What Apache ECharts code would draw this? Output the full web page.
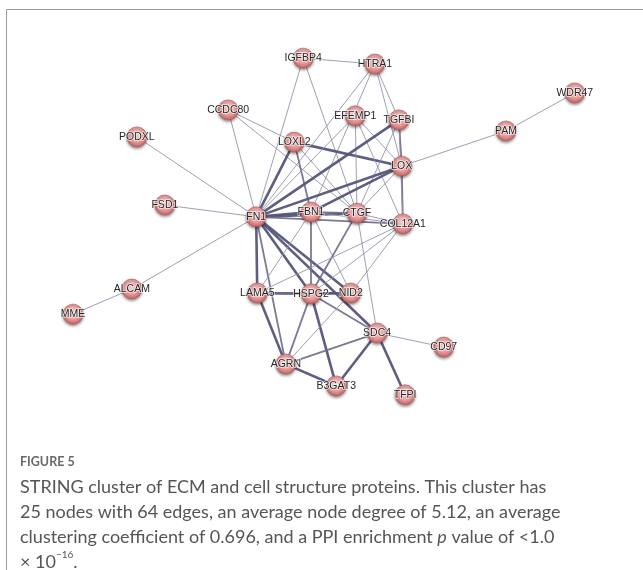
<!DOCTYPE html>
<html>
<head>
<meta charset="utf-8">
<style>
  html, body { margin: 0; padding: 0; background: #fff; }
  #chart { width: 643px; height: 570px; }
</style>
<script src="https://cdn.jsdelivr.net/npm/echarts@6/dist/echarts.min.js"></script>
</head>
<body>
<div id="chart"></div>
<script>
// Protein names and their layout coordinates (layout units, 0–100 on each axis)
const proteins = ['IGFBP4','HTRA1','WDR47','CCDC80','EFEMP1','TGFBI','PAM','PODXL','LOXL2','LOX',
  'FSD1','FN1','FBN1','CTGF','COL12A1','ALCAM','MME','LAMA5','HSPG2','NID2','SDC4','CD97','AGRN','B3GAT3','TFPI'];
const layoutX = [47.0, 59.8, 95.5, 33.6, 56.3, 64.1, 83.2, 17.3, 45.4, 64.6,
  22.3, 38.6, 48.4, 56.6, 64.8, 16.4, 5.9, 38.8, 48.4, 55.5, 60.2, 72.1, 43.9, 52.9, 65.2];
const layoutY = [4.9, 6.5, 14.3, 18.9, 20.5, 21.6, 24.6, 26.2, 27.6, 34.1,
  44.6, 47.8, 46.5, 46.8, 49.7, 67.3, 74.1, 68.4, 68.6, 68.4, 79.2, 83.0, 87.6, 93.5, 95.9];

// Interactions: [protein A, protein B, confidence level 1 (low) – 3 (highest)]
const interactions = [
  ['IGFBP4','HTRA1',1], ['IGFBP4','FN1',1], ['IGFBP4','CTGF',1],
  ['HTRA1','FN1',1], ['HTRA1','FBN1',1], ['HTRA1','TGFBI',1], ['HTRA1','LOX',1],
  ['CCDC80','FN1',1], ['CCDC80','LOXL2',1], ['CCDC80','CTGF',1],
  ['PODXL','FN1',1], ['FSD1','FN1',1], ['ALCAM','FN1',1], ['MME','ALCAM',1],
  ['PAM','LOX',1], ['PAM','WDR47',1],
  ['LOXL2','LOX',3], ['LOXL2','FN1',3], ['LOXL2','FBN1',2], ['LOXL2','CTGF',1],
  ['EFEMP1','CTGF',1], ['EFEMP1','LOX',1], ['EFEMP1','FN1',1], ['EFEMP1','COL12A1',1],
  ['TGFBI','FN1',3], ['TGFBI','LOX',2], ['TGFBI','CTGF',1],
  ['LOX','FN1',3], ['LOX','FBN1',3], ['LOX','CTGF',1], ['LOX','COL12A1',2],
  ['FN1','FBN1',3], ['FN1','CTGF',3], ['FN1','COL12A1',2], ['FN1','LAMA5',3],
  ['FN1','HSPG2',3], ['FN1','NID2',3], ['FN1','SDC4',3], ['FN1','AGRN',2],
  ['FBN1','CTGF',2], ['FBN1','COL12A1',1], ['FBN1','HSPG2',2], ['FBN1','NID2',1],
  ['CTGF','COL12A1',1], ['CTGF','HSPG2',2], ['CTGF','SDC4',1],
  ['COL12A1','LAMA5',1], ['COL12A1','HSPG2',1], ['COL12A1','NID2',1],
  ['LAMA5','HSPG2',3], ['LAMA5','NID2',2], ['LAMA5','AGRN',3],
  ['HSPG2','NID2',3], ['HSPG2','AGRN',2], ['HSPG2','B3GAT3',3], ['HSPG2','SDC4',2],
  ['NID2','AGRN',1], ['AGRN','B3GAT3',3], ['AGRN','SDC4',2],
  ['SDC4','B3GAT3',3], ['SDC4','TFPI',3], ['SDC4','CD97',1],
  ['FBN1','LAMA5',1], ['TGFBI','COL12A1',1]
];

const captionHead = 'FIGURE 5';
const captionLines = [
  'STRING cluster of ECM and cell structure proteins. This cluster has',
  '25 nodes with 64 edges, an average node degree of 5.12, an average',
  'clustering coefficient of 0.696, and a PPI enrichment {i|p} value of <1.0',
  '× 10{sup|−16}.'
];

// Edge appearance by confidence level
const edgeStyle = {
  1: { width: 1.0, color: '#8e8ea8', opacity: 0.85 },
  2: { width: 1.8, color: '#6a6a88', opacity: 0.9 },
  3: { width: 2.6, color: '#55557a', opacity: 0.95 }
};

const nodeFill = {
  type: 'radial', x: 0.5, y: 0.4, r: 0.6,
  colorStops: [
    { offset: 0, color: '#f7d2d2' },
    { offset: 0.55, color: '#eaa0a0' },
    { offset: 1, color: '#c25f5f' }
  ]
};

const nodes = proteins.map((name, i) => ({
  name,
  value: [layoutX[i], layoutY[i]]
}));

const links = interactions.map(([a, b, level]) => ({
  source: a,
  target: b,
  lineStyle: {
    width: edgeStyle[level].width,
    color: edgeStyle[level].color,
    opacity: edgeStyle[level].opacity
  }
}));

const chart = echarts.init(document.getElementById('chart'), null, { renderer: 'canvas' });

const captionFont = 'Lato, Open Sans, sans-serif';

chart.setOption({
  backgroundColor: '#fff',
  animation: false,
  grid: { left: 40, top: 40, width: 560, height: 370 },
  xAxis: { type: 'value', min: 0, max: 100, show: false },
  yAxis: { type: 'value', min: 0, max: 100, inverse: true, show: false },
  series: [{
    type: 'graph',
    coordinateSystem: 'cartesian2d',
    layout: 'none',
    symbol: 'circle',
    symbolSize: 20,
    data: nodes,
    links: links,
    edgeSymbol: ['none', 'none'],
    lineStyle: { curveness: 0 },
    itemStyle: {
      color: nodeFill,
      borderColor: '#b35a5a',
      borderWidth: 0.6,
      shadowBlur: 3,
      shadowColor: 'rgba(0,0,0,0.45)',
      shadowOffsetY: 1.5
    },
    label: {
      show: true,
      position: 'inside',
      fontFamily: 'Liberation Sans, Arial, sans-serif',
      fontSize: 10.5,
      color: '#262626',
      textBorderColor: 'rgba(255,255,255,0.75)',
      textBorderWidth: 1.5
    },
    emphasis: { disabled: true }
  }],
  graphic: [
    // Frame around the figure
    { type: 'polyline', shape: { points: [[6.5, 570], [6.5, 9.5], [643, 9.5]] },
      style: { stroke: '#9a9a9a', lineWidth: 1, fill: null }, silent: true },
    { type: 'text', left: 20, top: 455,
      style: { text: captionHead, fontFamily: captionFont, fontSize: 12.5,
               fontWeight: 'bold', fill: '#6a6a6a' } },
    { type: 'text', left: 20, top: 475,
      style: {
        text: captionLines.join('\n'),
        fontFamily: captionFont,
        fontSize: 18, lineHeight: 25, fill: '#555',
        rich: {
          i: { fontStyle: 'italic', fontFamily: captionFont, fontSize: 18, fill: '#555', lineHeight: 25 },
          sup: { fontSize: 10, fontFamily: captionFont, fill: '#555', verticalAlign: 'top', lineHeight: 25 }
        }
      } }
  ]
});
</script>
</body>
</html>
